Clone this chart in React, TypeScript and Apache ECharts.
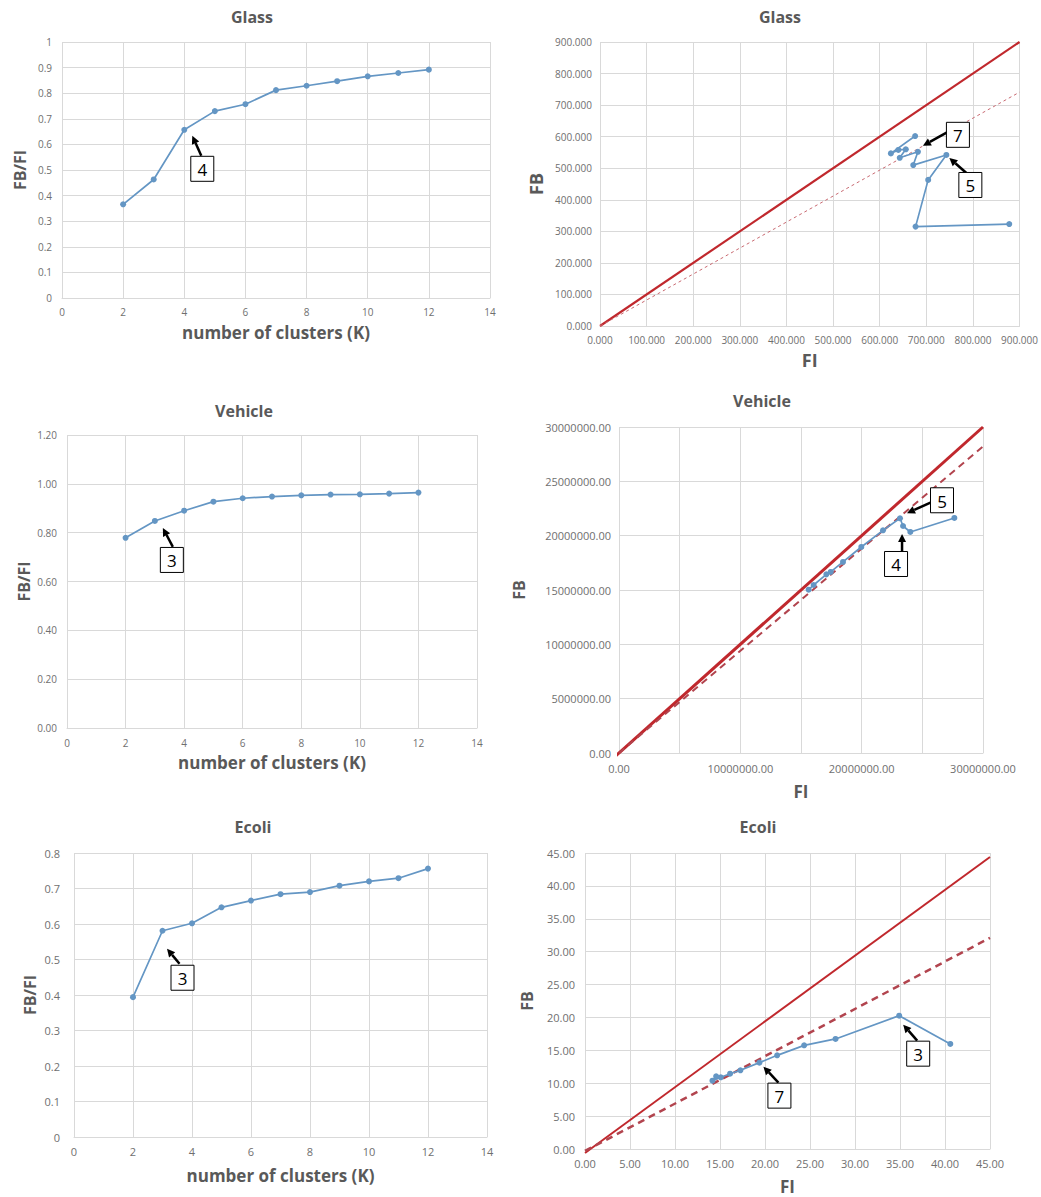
import React, { useEffect, useRef } from 'react';
import * as echarts from 'echarts';

// ---------- data ----------
const kValues = [2, 3, 4, 5, 6, 7, 8, 9, 10, 11, 12];
const glassRatio = [0.366, 0.463, 0.657, 0.73, 0.757, 0.812, 0.829, 0.847, 0.866, 0.879, 0.892];
const vehicleRatio = [0.779, 0.848, 0.89, 0.927, 0.941, 0.948, 0.953, 0.956, 0.957, 0.96, 0.964];
const ecoliRatio = [0.394, 0.581, 0.602, 0.647, 0.666, 0.684, 0.69, 0.708, 0.72, 0.729, 0.756];

const glassFI = [878, 677, 704, 743, 672, 682, 643, 656, 640, 624, 676];
const glassFB = [323, 315, 463, 542, 510, 552, 533, 560, 558, 547, 602];
const vehicleFI = [27640000, 24010000, 23410000, 23160000, 21760000, 19970000, 18460000, 17450000, 17090000, 16040000, 15630000];
const vehicleFB = [21630000, 20340000, 20890000, 21600000, 20490000, 18960000, 17580000, 16660000, 16440000, 15460000, 15030000];
const ecoliFI = [40.59, 34.91, 27.84, 24.35, 21.35, 19.38, 17.27, 16.12, 15.09, 14.16, 14.57];
const ecoliFB = [15.97, 20.27, 16.73, 15.76, 14.24, 13.13, 11.96, 11.45, 10.9, 10.39, 11.05];

// reference lines (FB = FI and trend lines)
const glassIdentity = [[0, 0], [900, 900]];
const glassTrend = [[0, 0], [900, 741]];
const vehicleIdentity = [[-400000, -400000], [30000000, 30000000]];
const vehicleTrend = [[0, 0], [30000000, 28200000]];
const ecoliIdentity = [[0, -0.6], [45, 44.4]];
const ecoliTrend = [[0, -0.3], [45, 32.1]];

const titles = ['Glass', 'Glass', 'Vehicle', 'Vehicle', 'Ecoli', 'Ecoli'];

// annotations: panel, point index, label
const annotations = [
  { panel: 0, idx: 2, label: '4', tip: [8, 6], tail: [17, 26], box: [18, 39] },
  { panel: 1, idx: 5, label: '7', tip: [5, -6], tail: [30, -20], box: [40, -17] },
  { panel: 1, idx: 3, label: '5', tip: [3, 3], tail: [20, 18], box: [24, 30] },
  { panel: 2, idx: 1, label: '3', tip: [8, 7], tail: [18, 26], box: [17, 39] },
  { panel: 3, idx: 3, label: '5', tip: [7, -5], tail: [31, -16], box: [42, -18] },
  { panel: 3, idx: 2, label: '4', tip: [-1, 8], tail: [-1, 26], box: [-7, 38] },
  { panel: 4, idx: 1, label: '3', tip: [4.5, 18], tail: [17, 33], box: [20, 47] },
  { panel: 5, idx: 1, label: '3', tip: [4, 9], tail: [18, 25], box: [19, 38] },
  { panel: 5, idx: 5, label: '7', tip: [4, 4], tail: [19, 20], box: [20, 33] },
];

// ---------- styling ----------
const FONT = '"Open Sans", "Noto Sans", sans-serif';
const GREY = '#595959';
const TICK = '#6f6f6f';
const GRIDC = '#d9d9d9';
const BLUE = '#6496c4';
const RED = '#c0282d';

const grids = [
  { left: 62, top: 42, width: 428, height: 256 },
  { left: 600, top: 42, width: 421, height: 284 },
  { left: 67, top: 435, width: 410, height: 293 },
  { left: 619, top: 427, width: 364, height: 326 },
  { left: 74, top: 853, width: 413, height: 284 },
  { left: 585, top: 853, width: 405, height: 296 },
];
const titlePos = [
  [252, 17], [780, 17], [244, 411], [762, 401], [253, 827], [758, 827],
];

function App() {
  const ref = useRef<HTMLDivElement>(null);
  useEffect(() => {
    const chart = echarts.init(ref.current!, null, { renderer: 'svg' });

    const axisBase = (extra: any) => ({
      type: 'value',
      axisLine: { show: true, lineStyle: { color: GRIDC } },
      axisTick: { show: false },
      splitLine: { show: true, lineStyle: { color: GRIDC, width: 1 } },
      axisLabel: { color: TICK, fontFamily: FONT, fontSize: 10 },
      nameTextStyle: { color: GREY, fontFamily: FONT, fontWeight: 'bold', fontSize: 16 },
      nameLocation: 'middle',
      ...extra,
    });

    const fix = (d: number) => (v: number) => v.toFixed(d);
    const clusterName = {
      name: 'number of clusters (K)',
      nameGap: 26,
      nameTextStyle: { color: GREY, fontFamily: FONT, fontWeight: 'bold', fontSize: 17 },
    };

    const xAxis = [
      axisBase({ gridIndex: 0, min: 0, max: 14, interval: 2, ...clusterName, axisLabel: { color: TICK, fontFamily: FONT, fontSize: 10, margin: 9 } }),
      axisBase({ gridIndex: 1, min: 0, max: 900, interval: 100, name: 'FI', nameGap: 25,
        nameTextStyle: { color: GREY, fontFamily: FONT, fontWeight: 'bold', fontSize: 18 },
        axisLabel: { color: TICK, fontFamily: FONT, fontSize: 10, formatter: fix(3), margin: 9 } }),
      axisBase({ gridIndex: 2, min: 0, max: 14, interval: 2, ...clusterName, nameGap: 26, axisLabel: { color: TICK, fontFamily: FONT, fontSize: 10, margin: 10 } }),
      axisBase({ gridIndex: 3, min: 0, max: 30000000, interval: 5000000, name: 'FI', nameGap: 30,
        nameTextStyle: { color: GREY, fontFamily: FONT, fontWeight: 'bold', fontSize: 17 },
        axisLabel: { color: TICK, fontFamily: FONT, fontSize: 11, margin: 10,
          formatter: (v: number) => (v % 10000000 === 0 ? v.toFixed(2) : '') } }),
      axisBase({ gridIndex: 4, min: 0, max: 14, interval: 2, ...clusterName, nameGap: 30, axisLabel: { color: TICK, fontFamily: FONT, fontSize: 11, margin: 9 } }),
      axisBase({ gridIndex: 5, min: 0, max: 45, interval: 5, name: 'FI', nameGap: 29,
        nameTextStyle: { color: GREY, fontFamily: FONT, fontWeight: 'bold', fontSize: 17 },
        axisLabel: { color: TICK, fontFamily: FONT, fontSize: 11, formatter: fix(2), margin: 9 } }),
    ];
    const yAxis = [
      axisBase({ gridIndex: 0, min: 0, max: 1, interval: 0.1, name: 'FB/FI', nameGap: 34,
        axisLine: { show: false }, axisLabel: { color: TICK, fontFamily: FONT, fontSize: 10, margin: 10 } }),
      axisBase({ gridIndex: 1, min: 0, max: 900, interval: 100, name: 'FB', nameGap: 55,
        axisLine: { show: false },
        nameTextStyle: { color: GREY, fontFamily: FONT, fontWeight: 'bold', fontSize: 18 },
        axisLabel: { color: TICK, fontFamily: FONT, fontSize: 10, formatter: fix(3), margin: 8 } }),
      axisBase({ gridIndex: 2, min: 0, max: 1.2, interval: 0.2, name: 'FB/FI', nameGap: 35,
        axisLine: { show: false }, axisLabel: { color: TICK, fontFamily: FONT, fontSize: 10, formatter: fix(2), margin: 10 } }),
      axisBase({ gridIndex: 3, min: 0, max: 30000000, interval: 5000000, name: 'FB', nameGap: 92,
        axisLine: { show: false }, axisLabel: { color: TICK, fontFamily: FONT, fontSize: 11, formatter: fix(2), margin: 8 } }),
      axisBase({ gridIndex: 4, min: 0, max: 0.8, interval: 0.1, name: 'FB/FI', nameGap: 36,
        axisLine: { show: false }, axisLabel: { color: TICK, fontFamily: FONT, fontSize: 11, margin: 14 } }),
      axisBase({ gridIndex: 5, min: 0, max: 45, interval: 5, name: 'FB', nameGap: 50,
        axisLine: { show: false }, axisLabel: { color: TICK, fontFamily: FONT, fontSize: 11, formatter: fix(2), margin: 10 } }),
    ];

    const dataLine = (i: number, data: number[][]) => ({
      type: 'line', xAxisIndex: i, yAxisIndex: i, data,
      symbol: 'circle', symbolSize: 6,
      lineStyle: { color: BLUE, width: 1.7 },
      itemStyle: { color: BLUE },
      z: 5,
    });
    const refLine = (i: number, data: number[][], width: number, dash?: number[], color = RED) => ({
      type: 'line', xAxisIndex: i, yAxisIndex: i, data, symbol: 'none', clip: false,
      lineStyle: { color, width, type: dash ? dash : 'solid' },
      z: 3,
    });

    const zip = (a: number[], b: number[]) => a.map((v, j) => [v, b[j]]);

    const series: any[] = [
      dataLine(0, zip(kValues, glassRatio)),
      refLine(1, glassIdentity, 2.2),
      refLine(1, glassTrend, 1, [3, 3], '#c96a72'),
      dataLine(1, zip(glassFI, glassFB)),
      dataLine(2, zip(kValues, vehicleRatio)),
      refLine(3, vehicleIdentity, 3),
      refLine(3, vehicleTrend, 2, [7, 5], '#b2444e'),
      dataLine(3, zip(vehicleFI, vehicleFB)),
      dataLine(4, zip(kValues, ecoliRatio)),
      refLine(5, ecoliIdentity, 2),
      refLine(5, ecoliTrend, 2.5, [7, 5], '#b2444e'),
      dataLine(5, zip(ecoliFI, ecoliFB)),
    ];

    const titleGraphics = titles.map((t, i) => ({
      type: 'text', x: titlePos[i][0], y: titlePos[i][1],
      style: { text: t, font: `bold 16px ${FONT}`, fill: GREY, align: 'center', verticalAlign: 'middle' },
    }));

    chart.setOption({
      animation: false,
      backgroundColor: '#ffffff',
      grid: grids.map(g => ({ ...g, containLabel: false })),
      xAxis, yAxis, series,
      graphic: titleGraphics,
    });

    // annotations placed relative to the data points via the chart's own scales
    const panelData = [
      zip(kValues, glassRatio), zip(glassFI, glassFB),
      zip(kValues, vehicleRatio), zip(vehicleFI, vehicleFB),
      zip(kValues, ecoliRatio), zip(ecoliFI, ecoliFB),
    ];
    const annGraphics: any[] = [];
    annotations.forEach(a => {
      const p = chart.convertToPixel({ xAxisIndex: a.panel, yAxisIndex: a.panel }, panelData[a.panel][a.idx]) as number[];
      const tip = [p[0] + a.tip[0], p[1] + a.tip[1]];
      const tail = [p[0] + a.tail[0], p[1] + a.tail[1]];
      const bc = [p[0] + a.box[0], p[1] + a.box[1]];
      const dx = tip[0] - tail[0];
      const dy = tip[1] - tail[1];
      const len = Math.sqrt(dx * dx + dy * dy) || 1;
      const ux = dx / len, uy = dy / len;
      const hl = 8, hw = 4;
      const base = [tip[0] - ux * hl, tip[1] - uy * hl];
      annGraphics.push({
        type: 'line', z: 100,
        shape: { x1: tail[0], y1: tail[1], x2: base[0], y2: base[1] },
        style: { stroke: '#000', lineWidth: 2.5 },
      });
      annGraphics.push({
        type: 'polygon', z: 100,
        shape: { points: [tip, [base[0] - uy * hw, base[1] + ux * hw], [base[0] + uy * hw, base[1] - ux * hw]] },
        style: { fill: '#000' },
      });
      annGraphics.push({
        type: 'rect', z: 100,
        shape: { x: bc[0] - 11.5, y: bc[1] - 12.5, width: 23, height: 25 },
        style: { fill: '#fff', stroke: '#000', lineWidth: 1 },
      });
      annGraphics.push({
        type: 'text', z: 101, x: bc[0], y: bc[1] + 1,
        style: { text: a.label, font: `17px ${FONT}`, fill: '#000', align: 'center', verticalAlign: 'middle' },
      });
    });
    chart.setOption({ graphic: [...titleGraphics, ...annGraphics] });

    return () => chart.dispose();
  }, []);
  return <div ref={ref} style={{ width: 1041, height: 1197, position: 'absolute', left: 0, top: 0 }} />;
}

export default App;
